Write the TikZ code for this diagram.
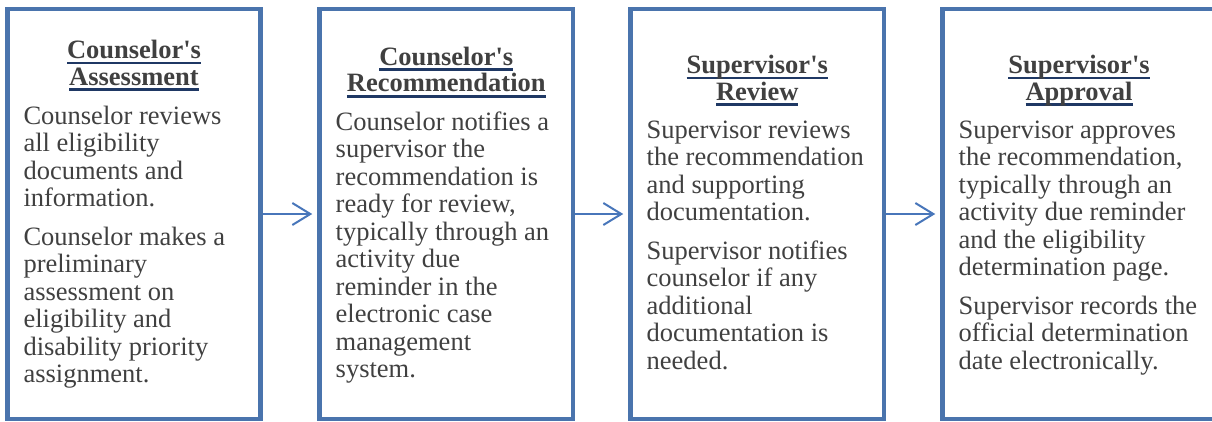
\documentclass[tikz,border=0pt]{standalone}
\usepackage{fontspec}
\setmainfont{Liberation Serif}
\usetikzlibrary{arrows.meta}

\definecolor{frameblue}{RGB}{74,116,173}
\definecolor{arrowblue}{RGB}{72,118,186}
\definecolor{inkgray}{RGB}{64,64,64}
\definecolor{rulenavy}{RGB}{31,56,100}

% heading word with a thick navy underline
\newsavebox\headbox
\newcommand\headword[1]{\leavevmode\sbox\headbox{#1}\rlap{\textcolor{rulenavy}{\rule[-6pt]{\wd\headbox}{2.7pt}}}\usebox\headbox}

\tikzset{
  stage/.style={draw=frameblue, line width=4.5pt, minimum height=410pt, inner sep=0pt},
  flow/.style={draw=arrowblue, line width=2pt, -{Straight Barb[length=18pt,width=22pt]}, shorten >=5pt},
  heading/.style={anchor=base, inner sep=0pt, text=inkgray, font=\fontsize{26.5}{26.7}\selectfont\bfseries},
  bodytext/.style={anchor=base west, inner sep=0pt, text=inkgray, font=\fontsize{26.5}{27.5}\selectfont}
}

\begin{document}
\begin{tikzpicture}[x=1pt, y=-1pt]
  \useasboundingbox (0,0) rectangle (1212,421);
  \clip (0,0) rectangle (1212,421);

  % stage frames
  \node[stage, minimum width=253pt] (s1) at (134,214) {};
  \node[stage, minimum width=253.5pt] (s2) at (446.25,214) {};
  \node[stage, minimum width=253.5pt] (s3) at (757.25,214) {};
  \node[stage, minimum width=300pt] (s4) at (1092.5,214) {};

  % connectors
  \draw[flow] (s1.east) -- (s2.west);
  \draw[flow] (s2.east) -- (s3.west);
  \draw[flow] (s3.east) -- (s4.west);

  % stage 1
  \node[heading] (h1) at (134,58.3)
    {\parbox[t]{250pt}{\centering\headword{Counselor\textquotesingle s}\\\headword{Assessment}}};
  \node[bodytext] (t1) at (23.3,124.3)
    {\parbox[t]{235pt}{\raggedright
      Counselor reviews\\all eligibility\\documents and\\information.\\[11pt]
      Counselor makes a\\preliminary\\assessment on\\eligibility and\\disability priority\\assignment.}};

  % stage 2
  \node[heading] (h2) at (446.25,65)
    {\parbox[t]{250pt}{\centering\headword{Counselor\textquotesingle s}\\\headword{Recommendation}}};
  \node[bodytext] (t2) at (335.5,130)
    {\parbox[t]{235pt}{\raggedright
      Counselor notifies a\\supervisor the\\recommendation is\\ready for review,\\typically through an\\activity due\\reminder in the\\electronic case\\management\\system.}};

  % stage 3
  \node[heading] (h3) at (757.25,73.3)
    {\parbox[t]{250pt}{\centering\headword{Supervisor\textquotesingle s}\\\headword{Review}}};
  \node[bodytext] (t3) at (646.5,138.3)
    {\parbox[t]{235pt}{\raggedright
      Supervisor reviews\\the recommendation\\and supporting\\documentation.\\[11pt]
      Supervisor notifies\\counselor if any\\additional\\documentation is\\needed.}};

  % stage 4
  \node[heading] (h4) at (1079,73.3)
    {\parbox[t]{250pt}{\centering\headword{Supervisor\textquotesingle s}\\\headword{Approval}}};
  \node[bodytext] (t4) at (958.5,138.3)
    {\parbox[t]{245pt}{\raggedright
      Supervisor approves\\the recommendation,\\typically through an\\activity due reminder\\and the eligibility\\determination page.\\[11pt]
      Supervisor records the\\official determination\\date electronically.}};
\end{tikzpicture}
\end{document}
